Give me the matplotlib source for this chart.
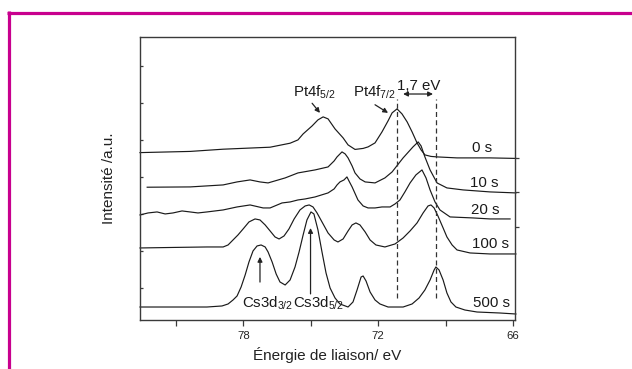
import matplotlib
matplotlib.use("Agg")
import matplotlib.pyplot as plt
from matplotlib.lines import Line2D

plt.rcParams['font.family'] = ['Liberation Sans', 'DejaVu Sans']
plt.rcParams['mathtext.default'] = 'regular'

# ---- data (binding energy in eV, intensity in a.u. with vertical offsets) ----
x_0s = [82.60, 80.37, 78.90, 76.81, 75.92, 75.57, 75.34, 74.94, 74.68, 74.45, 74.23, 73.92,
        73.56, 73.34, 73.03, 72.67, 72.45, 72.14, 71.83, 71.56, 71.38, 71.16, 70.94, 70.71,
        70.49, 70.27, 70.09, 69.92, 69.65, 69.38, 68.49, 67.02, 65.87]
y_0s = [3.657, 3.689, 3.749, 3.803, 3.911, 4.000, 4.162, 4.378, 4.541, 4.622, 4.568, 4.297,
        4.054, 3.865, 3.743, 3.770, 3.811, 3.919, 4.216, 4.514, 4.730, 4.838, 4.703, 4.486,
        4.216, 3.919, 3.730, 3.595, 3.554, 3.541, 3.514, 3.514, 3.500]

x_10s = [82.28, 80.37, 78.90, 78.28, 77.70, 77.26, 76.90, 76.14, 75.57, 74.81, 74.23, 73.96,
         73.83, 73.61, 73.47, 73.34, 73.16, 73.03, 72.81, 72.58, 72.14, 71.70, 71.38, 70.89,
         70.45, 70.22, 70.09, 69.92, 69.69, 69.38, 68.94, 68.22, 67.02, 65.87]
y_10s = [2.722, 2.730, 2.784, 2.865, 2.919, 2.865, 2.838, 2.973, 3.108, 3.189, 3.270, 3.432,
         3.541, 3.676, 3.622, 3.514, 3.297, 3.108, 2.946, 2.865, 2.838, 2.973, 3.135, 3.514,
         3.811, 3.946, 3.838, 3.541, 3.189, 2.838, 2.703, 2.649, 2.595, 2.568]

x_20s = [82.60, 82.24, 81.84, 81.48, 81.13, 80.73, 80.37, 80.02, 79.62, 79.26, 78.90, 78.28,
         77.70, 77.12, 76.81, 76.28, 75.92, 75.57, 75.25, 74.81, 74.23, 73.96, 73.83, 73.70,
         73.52, 73.39, 73.30, 73.16, 72.90, 72.67, 72.45, 72.14, 71.83, 71.47, 71.25, 71.03,
         70.81, 70.58, 70.32, 70.05, 69.87, 69.69, 69.47, 69.25, 68.80, 67.78, 67.02, 66.13]
y_20s = [1.973, 2.027, 2.054, 2.000, 2.027, 2.081, 2.054, 2.027, 2.054, 2.081, 2.108, 2.189,
         2.243, 2.162, 2.162, 2.297, 2.324, 2.378, 2.405, 2.459, 2.568, 2.676, 2.784, 2.865,
         2.919, 3.000, 2.892, 2.730, 2.378, 2.216, 2.162, 2.162, 2.189, 2.189, 2.270, 2.378,
         2.595, 2.838, 3.054, 3.189, 2.973, 2.649, 2.324, 2.108, 1.919, 1.892, 1.865, 1.865]

x_100s = [82.60, 81.13, 79.62, 78.90, 78.68, 78.46, 78.24, 78.01, 77.75, 77.48, 77.26, 77.03,
          76.81, 76.59, 76.41, 76.19, 75.97, 75.74, 75.48, 75.25, 75.07, 74.90, 74.72, 74.50,
          74.23, 73.96, 73.79, 73.56, 73.34, 73.16, 72.99, 72.81, 72.58, 72.36, 72.10, 71.70,
          71.25, 70.89, 70.58, 70.27, 70.00, 69.78, 69.65, 69.51, 69.34, 69.11, 68.94, 68.71,
          68.49, 67.91, 67.02, 65.87]
y_100s = [1.081, 1.095, 1.108, 1.108, 1.162, 1.297, 1.432, 1.595, 1.784, 1.865, 1.838, 1.703,
          1.541, 1.378, 1.324, 1.405, 1.595, 1.865, 2.108, 2.216, 2.243, 2.189, 2.027, 1.784,
          1.486, 1.297, 1.243, 1.324, 1.541, 1.703, 1.757, 1.703, 1.514, 1.297, 1.162, 1.108,
          1.189, 1.351, 1.541, 1.757, 2.027, 2.216, 2.243, 2.162, 1.946, 1.622, 1.378, 1.162,
          1.027, 0.946, 0.919, 0.919]

x_500s = [82.60, 81.13, 79.62, 78.95, 78.68, 78.46, 78.28, 78.10, 77.92, 77.75, 77.57, 77.39,
          77.21, 77.03, 76.90, 76.72, 76.54, 76.37, 76.14, 75.92, 75.70, 75.52, 75.34, 75.17,
          74.99, 74.86, 74.68, 74.50, 74.32, 74.14, 73.92, 73.70, 73.34, 73.12, 72.94, 72.76,
          72.67, 72.54, 72.36, 72.14, 71.92, 71.56, 70.89, 70.49, 70.18, 69.92, 69.69, 69.51,
          69.43, 69.29, 69.11, 68.94, 68.76, 68.54, 68.14, 67.60, 66.58, 65.87]
y_500s = [-0.514, -0.514, -0.514, -0.486, -0.432, -0.324, -0.216, 0.027, 0.351, 0.703, 1.000, 1.135,
          1.162, 1.108, 0.973, 0.703, 0.378, 0.162, 0.081, 0.216, 0.568, 0.973, 1.432, 1.838,
          2.054, 2.000, 1.568, 0.973, 0.405, 0.000, -0.270, -0.432, -0.514, -0.378, -0.054, 0.297,
          0.324, 0.189, -0.108, -0.324, -0.432, -0.514, -0.514, -0.432, -0.270, -0.054, 0.216, 0.486,
          0.568, 0.486, 0.216, -0.135, -0.378, -0.514, -0.595, -0.649, -0.676, -0.703]

series_x = [x_0s, x_10s, x_20s, x_100s, x_500s]
series_y = [y_0s, y_10s, y_20s, y_100s, y_500s]
series_labels = ['0 s', '10 s', '20 s', '100 s', '500 s']
label_x = [67.82, 67.91, 67.87, 67.82, 67.78]
label_y = [3.68, 2.73, 2.00, 1.08, -0.51]

pt72_energy = 71.16
pt_shift_energy = 69.42
x_major = [78, 72, 66]
x_minor = [81, 75, 69]
y_ticks = [0, 1, 2, 3, 4, 5, 6]
right_ticks = [3.51, 2.595, 1.649]

# ---- figure ----
W, H = 632, 369
fig = plt.figure(figsize=(W / 100, H / 100), dpi=100)
fig.patch.set_facecolor('white')

magenta = '#c8008e'
fig.add_artist(Line2D([7 / W, 1.0], [1 - 12.5 / H, 1 - 12.5 / H], color=magenta, lw=2.3,
                      solid_capstyle='butt', transform=fig.transFigure))
fig.add_artist(Line2D([8.5 / W, 8.5 / W], [1 - 11 / H, 0.0], color=magenta, lw=2.3,
                      solid_capstyle='butt', transform=fig.transFigure))

ax = fig.add_axes([140 / W, (H - 320) / H, 375 / W, 283 / H])
ax.set_xlim(82.6, 65.91)
ax.set_ylim(-0.865, 6.78)

spine_c = '#3a3a3a'
for s in ax.spines.values():
    s.set_color(spine_c)
    s.set_linewidth(1.0)

line_c = '#1a1a1a'
for xs, ys in zip(series_x, series_y):
    ax.plot(xs, ys, color=line_c, lw=0.85, clip_on=False)

txt_c = '#1a1a1a'
fs = 10.8
for lab, lx, ly in zip(series_labels, label_x, label_y):
    ax.text(lx, ly, lab, fontsize=fs, color=txt_c, ha='left', va='baseline')

# dashed reference lines
for e in (pt72_energy, pt_shift_energy):
    ax.plot([e, e], [-0.27, 5.11], color='#333333', lw=0.9, ls=(0, (4, 2.6)))

# 1,7 eV double arrow
ax.annotate('', xy=(69.56, 5.24), xytext=(70.89, 5.24),
            arrowprops=dict(arrowstyle='<|-|>', color='#222222', lw=0.9,
                            mutation_scale=7, shrinkA=0, shrinkB=0))
ax.text(70.18, 5.35, '1,7 eV', fontsize=fs, color=txt_c, ha='center', va='baseline')

# Pt labels and arrows
ax.text(74.84, 5.16, 'Pt4f$_{5/2}$', fontsize=fs, color=txt_c, ha='center', va='baseline')
ax.annotate('', xy=(74.59, 4.73), xytext=(74.94, 4.99),
            arrowprops=dict(arrowstyle='-|>', color='#222222', lw=0.9,
                            mutation_scale=7, shrinkA=0, shrinkB=0))
ax.text(72.16, 5.16, 'Pt4f$_{7/2}$', fontsize=fs, color=txt_c, ha='center', va='baseline')
ax.annotate('', xy=(71.56, 4.73), xytext=(72.14, 4.95),
            arrowprops=dict(arrowstyle='-|>', color='#222222', lw=0.9,
                            mutation_scale=7, shrinkA=0, shrinkB=0))

# Cs labels and arrows
ax.annotate('', xy=(77.26, 0.84), xytext=(77.26, 0.16),
            arrowprops=dict(arrowstyle='-|>', color='#222222', lw=0.9,
                            mutation_scale=7, shrinkA=0, shrinkB=0))
ax.annotate('', xy=(75.01, 1.62), xytext=(75.01, -0.16),
            arrowprops=dict(arrowstyle='-|>', color='#222222', lw=0.9,
                            mutation_scale=7, shrinkA=0, shrinkB=0))
ax.text(76.90, -0.54, 'Cs3d$_{3/2}$', fontsize=fs, color=txt_c, ha='center', va='baseline')
ax.text(74.63, -0.54, 'Cs3d$_{5/2}$', fontsize=fs, color=txt_c, ha='center', va='baseline')

# ticks
ax.set_xticks(x_major)
ax.set_xticklabels([str(v) for v in x_major])
ax.set_xticks(x_minor, minor=True)
ax.tick_params(axis='x', which='both', direction='out', length=4, width=0.9,
               color=spine_c, labelsize=8.2, labelcolor='#222222', pad=4)
ax.set_yticks(y_ticks)
ax.set_yticklabels([])
ax.tick_params(axis='y', which='major', direction='in', length=2.5, width=0.9, color=spine_c)

axr = ax.twinx()
axr.set_ylim(ax.get_ylim())
axr.set_yticks(right_ticks)
axr.set_yticklabels([])
axr.tick_params(axis='y', direction='out', length=3, width=0.9, color=spine_c)
for s in axr.spines.values():
    s.set_visible(False)

ax.set_xlabel('Énergie de liaison/ eV', fontsize=11, color='#222222', labelpad=4)
ax.set_ylabel('Intensité /a.u.', fontsize=11, color='#222222', labelpad=14)

fig.savefig('out.png', dpi=100, facecolor='white')
